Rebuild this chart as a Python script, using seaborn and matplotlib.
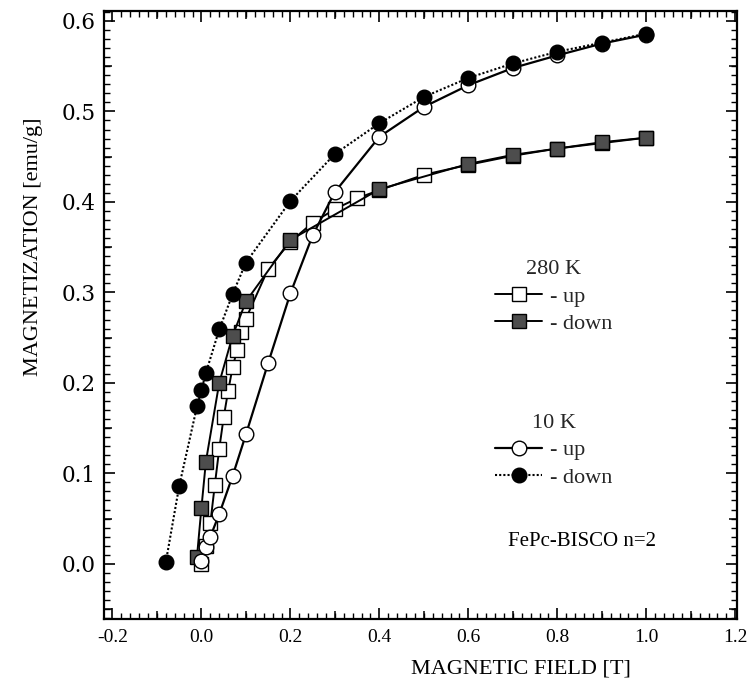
import numpy as np
import pandas as pd
import seaborn as sns
import matplotlib
matplotlib.use("Agg")
import matplotlib.pyplot as plt
from matplotlib.lines import Line2D
from matplotlib.ticker import MultipleLocator, FixedLocator

# ---- data: magnetization loops of FePc-BISCO n=2 ----
field_280_up = [0.00, 0.01, 0.02, 0.03, 0.04, 0.05, 0.06, 0.07, 0.08, 0.09, 0.10,
                0.15, 0.20, 0.25, 0.30, 0.35, 0.40, 0.50, 0.60, 0.70, 0.80, 0.90, 1.00]
mag_280_up = [0.000, 0.020, 0.045, 0.087, 0.127, 0.162, 0.191, 0.217, 0.236, 0.256, 0.271,
              0.326, 0.356, 0.377, 0.392, 0.404, 0.413, 0.430, 0.441, 0.451, 0.459, 0.465, 0.471]

field_280_down = [1.00, 0.90, 0.80, 0.70, 0.60, 0.40, 0.20, 0.10, 0.07, 0.04, 0.01, 0.00, -0.01]
mag_280_down = [0.471, 0.466, 0.459, 0.452, 0.442, 0.414, 0.358, 0.290, 0.252, 0.200, 0.113, 0.062, 0.008]

field_10_up = [0.00, 0.01, 0.02, 0.04, 0.07, 0.10, 0.15, 0.20, 0.25, 0.30, 0.40,
               0.50, 0.60, 0.70, 0.80, 0.90, 1.00]
mag_10_up = [0.003, 0.019, 0.030, 0.055, 0.097, 0.143, 0.222, 0.299, 0.363, 0.411, 0.472,
             0.505, 0.529, 0.548, 0.562, 0.575, 0.585]

field_10_down = [1.00, 0.90, 0.80, 0.70, 0.60, 0.50, 0.40, 0.30, 0.20, 0.10, 0.07,
                 0.04, 0.01, 0.00, -0.01, -0.05, -0.08]
mag_10_down = [0.586, 0.576, 0.566, 0.553, 0.537, 0.516, 0.487, 0.453, 0.401, 0.333, 0.298,
               0.259, 0.211, 0.192, 0.174, 0.086, 0.002]

x_ticks = [-0.2, 0.0, 0.2, 0.4, 0.6, 0.8, 1.0, 1.2]
y_ticks = [0.0, 0.1, 0.2, 0.3, 0.4, 0.5, 0.6]

sns.set_theme(style="white")
plt.rcParams["font.family"] = ["Liberation Serif", "DejaVu Serif"]

fig = plt.figure(figsize=(7.5, 6.89), dpi=100)
ax = fig.add_axes([0.1387, 0.1016, 0.8440, 0.8824])

SQ_FILL = "#4d4d4d"

styles = {
    "280up": dict(marker="s", markersize=9.5, markerfacecolor="white", markeredgecolor="black",
                  markeredgewidth=1.0, color="black", linewidth=1.4, linestyle="-"),
    "280down": dict(marker="s", markersize=9.5, markerfacecolor=SQ_FILL, markeredgecolor="black",
                    markeredgewidth=1.0, color="black", linewidth=1.4, linestyle="-"),
    "10up": dict(marker="o", markersize=10.5, markerfacecolor="white", markeredgecolor="black",
                 markeredgewidth=1.0, color="black", linewidth=1.6, linestyle="-"),
    "10down": dict(marker="o", markersize=10.5, markerfacecolor="black", markeredgecolor="black",
                   markeredgewidth=1.0, color="black", linewidth=1.5, linestyle=(0, (1, 1))),
}

series = [
    ("280up", field_280_up, mag_280_up),
    ("280down", field_280_down, mag_280_down),
    ("10up", field_10_up, mag_10_up),
    ("10down", field_10_down, mag_10_down),
]
for key, fx, my in series:
    df = pd.DataFrame({"field": fx, "mag": my})
    st = dict(styles[key])
    ls = st.pop("linestyle")
    sns.lineplot(data=df, x="field", y="mag", ax=ax, estimator=None, sort=False,
                 linestyle=ls, **st)

ax.set_xlim(-0.219, 1.204)
ax.set_ylim(-0.061, 0.611)

# tick marks: inward on all four sides
ax.xaxis.set_major_locator(FixedLocator(x_ticks))
ax.xaxis.set_minor_locator(MultipleLocator(0.02))
ax.yaxis.set_major_locator(FixedLocator(y_ticks))
ax.yaxis.set_minor_locator(MultipleLocator(0.01))
ax.set_xticklabels([f"{v:.1f}" for v in x_ticks], fontsize=14)
ax.set_yticklabels([f"{v:.1f}" for v in y_ticks], fontsize=15.5, family="DejaVu Serif")
ax.tick_params(which="major", direction="in", length=8, width=1.2, top=True, right=True,
               bottom=True, left=True, color="black", labelcolor="black")
ax.tick_params(axis="x", which="major", pad=7)
ax.tick_params(axis="y", which="major", pad=6)
ax.tick_params(which="minor", direction="in", length=4, width=1.0, top=True, right=True,
               bottom=True, left=True, color="black")

# medium-length ticks halfway between the labelled ones
for loc in ("bottom", "top"):
    sec = ax.secondary_xaxis(loc)
    sec.xaxis.set_major_locator(FixedLocator([-0.1, 0.1, 0.3, 0.5, 0.7, 0.9, 1.1]))
    sec.tick_params(direction="in", length=6, width=1.1, labelbottom=False, labeltop=False,
                    color="black")
    sec.spines[loc].set_visible(False)
for loc in ("left", "right"):
    sec = ax.secondary_yaxis(loc)
    sec.yaxis.set_major_locator(FixedLocator([-0.05, 0.05, 0.15, 0.25, 0.35, 0.45, 0.55]))
    sec.tick_params(direction="in", length=6, width=1.1, labelleft=False, labelright=False,
                    color="black")
    sec.spines[loc].set_visible(False)

for sp in ax.spines.values():
    sp.set_visible(True)
    sp.set_color("black")
    sp.set_linewidth(1.6)

ax.set_xlabel("MAGNETIC FIELD [T]", fontsize=16, color="black")
ax.set_ylabel("MAGNETIZATION [emu/g]", fontsize=16, color="black")
ax.xaxis.set_label_coords(0.659, -0.066)
ax.yaxis.set_label_coords(-0.097, 0.612)

def handle(key):
    st = styles[key]
    return Line2D([], [], **st)

leg_kw = dict(frameon=False, fontsize=16, title_fontsize=16, handlelength=2.1,
              handletextpad=0.35, labelspacing=0.3, borderpad=0.0, borderaxespad=0.0,
              numpoints=1, loc="upper left")
leg1 = ax.legend([handle("280up"), handle("280down")], ["- up", "- down"],
                 title="280 K", bbox_to_anchor=(0.618, 0.590), **leg_kw)
ax.add_artist(leg1)
leg2 = ax.legend([handle("10up"), handle("10down")], ["- up", "- down"],
                 title="10 K", bbox_to_anchor=(0.618, 0.337), **leg_kw)

ax.text(0.755, 0.128, "FePc-BISCO n=2", transform=ax.transAxes, fontsize=15,
        ha="center", va="center", color="black")

fig.savefig("out.png", dpi=100, facecolor="white")
